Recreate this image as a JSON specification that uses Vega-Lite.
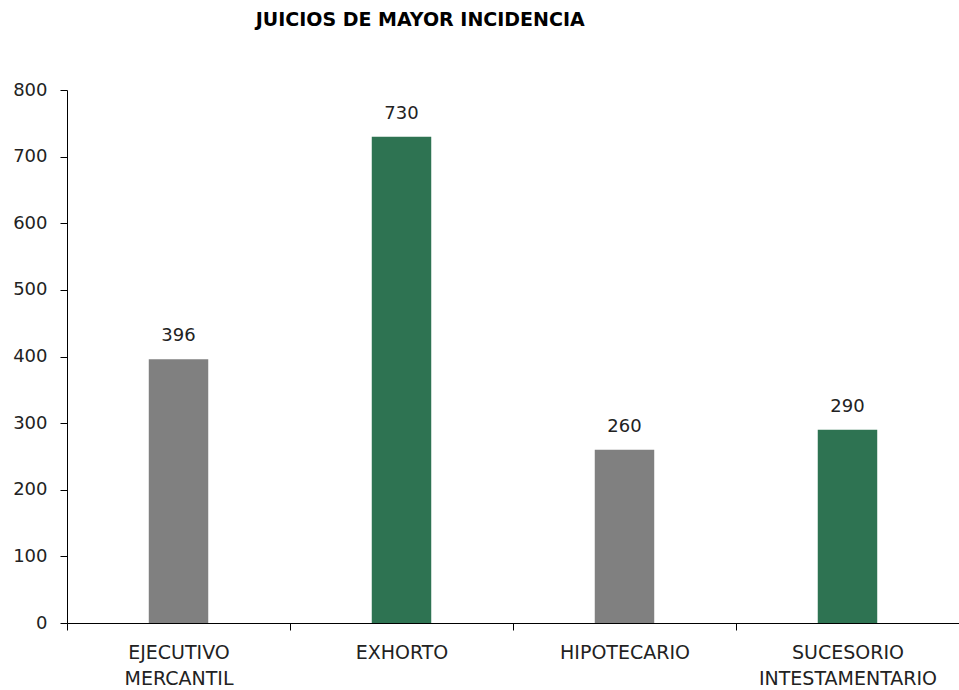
{
  "$schema": "https://vega.github.io/schema/vega-lite/v6.json",
  "width": 959,
  "height": 690,
  "autosize": {"type": "fit", "contains": "padding"},
  "padding": {"left": 12, "top": 11, "right": 0, "bottom": 2},
  "background": "white",
  "title": {
    "text": "JUICIOS DE MAYOR INCIDENCIA",
    "anchor": "start",
    "dx": 243,
    "offset": 51,
    "font": "DejaVu Sans",
    "fontSize": 19,
    "fontWeight": "bold",
    "color": "#000000"
  },
  "config": {
    "view": {"stroke": null},
    "axis": {"grid": false, "domainColor": "#000000", "tickColor": "#000000", "labelColor": "#000000", "labelFont": "DejaVu Sans", "labelFontSize": 17, "domainWidth": 1, "tickWidth": 1}
  },
  "data": {
    "values": [
      {"tipo": "EJECUTIVO MERCANTIL", "valor": 396, "grupo": "g"},
      {"tipo": "EXHORTO", "valor": 730, "grupo": "v"},
      {"tipo": "HIPOTECARIO", "valor": 260, "grupo": "g"},
      {"tipo": "SUCESORIO INTESTAMENTARIO", "valor": 290, "grupo": "v"}
    ]
  },
  "encoding": {
    "x": {
      "field": "tipo",
      "type": "nominal",
      "sort": null,
      "scale": {"paddingInner": 0.7333, "paddingOuter": 0.3667},
      "axis": {"title": null, "labelAngle": 0, "ticks": true, "tickOffset": {"signal": "-bandwidth('x')*1.875"}, "labelOffset": {"signal": "bandwidth('x')*1.875"}, "tickSize": 7, "tickColor": "#000000", "tickWidth": 1, "labelPadding": 13, "labelFontSize": 19, "labelLineHeight": 26, "labelExpr": "datum.value ? split(datum.value, ' ') : ''", "labelColor": "#222222"}
    },
    "y": {
      "field": "valor",
      "type": "quantitative",
      "scale": {"domain": [0, 800]},
      "axis": {"title": null, "values": [0,100,200,300,400,500,600,700,800], "tickSize": 7, "labelPadding": 13, "labelFontSize": 18, "labelColor": "#222222"}
    }
  },
  "layer": [
    {
      "mark": {"type": "bar"},
      "encoding": {
        "color": {"field": "grupo", "type": "nominal", "scale": {"domain": ["g", "v"], "range": ["#808080", "#2e7352"]}, "legend": null}
      }
    },
    {
      "mark": {"type": "text", "baseline": "bottom", "dy": -14, "font": "DejaVu Sans", "fontSize": 18, "color": "#222222"},
      "encoding": {"text": {"field": "valor", "type": "quantitative"}}
    }
  ]
}
